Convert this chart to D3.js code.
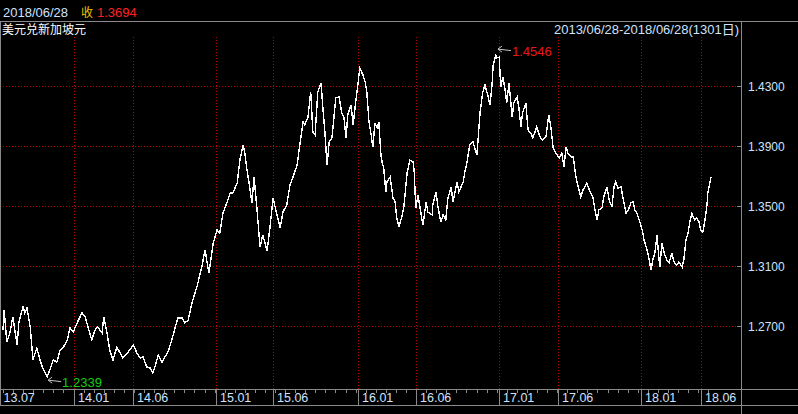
<!DOCTYPE html>
<html><head><meta charset="utf-8">
<script src="https://cdn.jsdelivr.net/npm/d3@7"></script>
<style>
html,body{margin:0;padding:0;background:#000;}
svg{display:block;}
text{font-family:"Liberation Sans",Arial,sans-serif;font-size:12px;}
</style></head>
<body>
<svg id="c" width="798" height="414"></svg>
<script>
// ---- data ----
const dayIndex = [0,2,7,13,18,26,29,37,40,44,50,55,62,68,73,81,86,92,99,105,110,118,123,129,136,145,151,156,163,169,174,182,185,191,196,202,209,215,220,228,233,239,246,252,257,264,270,275,279,285,292,297,303,310,316,321,329,334,340,347,353,356,365,371,378,386,393,398,404,411,417,422,430,435,441,444,448,453,457,461,466,472,477,485,490,496,503,509,514,521,527,532,540,545,551,554,560,565,569,573,578,584,587,591,595,599,604,606,611,617,622,626,630,633,639,643,648,652,655,661,665,668,672,676,679,683,687,690,694,696,699,703,705,711,716,720,723,727,733,736,742,747,753,755,758,762,767,771,777,780,788,789,795,799,804,808,813,817,823,826,834,837,845,848,852,857,863,870,872,876,881,885,890,894,898,900,905,907,911,914,918,922,925,929,935,938,944,947,951,954,960,964,969,973,980,986,991,997,1002,1006,1010,1015,1021,1026,1030,1034,1037,1043,1047,1052,1056,1061,1065,1072,1078,1083,1087,1091,1094,1100,1103,1109,1113,1118,1122,1125,1129,1135,1138,1144,1148,1153,1157,1160,1164,1170,1175,1177,1181,1184,1190,1193,1197,1201,1203,1206,1210,1214,1219,1223,1228,1232,1237,1241,1247,1250,1254,1258,1261,1265,1267,1270,1274,1278,1281,1285,1289,1293,1294,1300];
const closeValues = [1.2673,1.2807,1.2593,1.2660,1.2760,1.2573,1.2720,1.2833,1.2787,1.2820,1.2693,1.2473,1.2553,1.2473,1.2420,1.2360,1.2407,1.2473,1.2460,1.2540,1.2553,1.2607,1.2687,1.2660,1.2720,1.2787,1.2760,1.2693,1.2607,1.2673,1.2693,1.2653,1.2760,1.2653,1.2540,1.2473,1.2560,1.2520,1.2487,1.2520,1.2540,1.2573,1.2520,1.2487,1.2493,1.2427,1.2420,1.2387,1.2427,1.2507,1.2460,1.2493,1.2527,1.2607,1.2687,1.2753,1.2753,1.2720,1.2740,1.2853,1.2927,1.2960,1.3093,1.3207,1.3053,1.3253,1.3340,1.3320,1.3453,1.3520,1.3587,1.3587,1.3653,1.3807,1.3907,1.3853,1.3740,1.3627,1.3520,1.3693,1.3493,1.3227,1.3307,1.3200,1.3353,1.3553,1.3440,1.3353,1.3460,1.3507,1.3640,1.3687,1.3773,1.3907,1.4060,1.4040,1.4093,1.4260,1.3993,1.3973,1.4260,1.4320,1.4173,1.3993,1.3773,1.3927,1.3953,1.4027,1.4220,1.4227,1.4120,1.4093,1.3953,1.4107,1.4173,1.4040,1.4207,1.4320,1.4420,1.4373,1.4327,1.4260,1.4060,1.3973,1.3893,1.4053,1.4020,1.4060,1.3840,1.3793,1.3753,1.3593,1.3660,1.3693,1.3553,1.3527,1.3420,1.3360,1.3440,1.3493,1.3720,1.3807,1.3793,1.3727,1.3487,1.3573,1.3460,1.3373,1.3527,1.3460,1.3440,1.3507,1.3593,1.3487,1.3393,1.3440,1.3407,1.3553,1.3627,1.3527,1.3660,1.3593,1.3660,1.3727,1.3793,1.3907,1.3927,1.3840,1.3927,1.4127,1.4260,1.4307,1.4240,1.4173,1.4307,1.4440,1.4507,1.4487,1.4493,1.4293,1.4360,1.4273,1.4187,1.4320,1.4093,1.4187,1.4227,1.4160,1.4027,1.4120,1.4187,1.4007,1.3987,1.3953,1.4027,1.3960,1.3940,1.3960,1.4107,1.4027,1.3893,1.3853,1.3820,1.3853,1.3760,1.3893,1.3853,1.3827,1.3827,1.3693,1.3627,1.3560,1.3607,1.3653,1.3593,1.3560,1.3473,1.3407,1.3473,1.3487,1.3560,1.3627,1.3540,1.3493,1.3627,1.3660,1.3620,1.3627,1.3560,1.3453,1.3473,1.3520,1.3527,1.3473,1.3453,1.3387,1.3320,1.3273,1.3227,1.3187,1.3073,1.3140,1.3187,1.3307,1.3207,1.3093,1.3253,1.3187,1.3140,1.3120,1.3187,1.3127,1.3107,1.3127,1.3093,1.3140,1.3273,1.3320,1.3393,1.3453,1.3427,1.3407,1.3420,1.3393,1.3340,1.3327,1.3407,1.3520,1.3587,1.3694];
const yTickValues = [1.2700,1.3100,1.3500,1.3900,1.4300];
const monthLabels = ["13.07","14.01","14.06","15.01","15.06","16.01","16.06","17.01","17.06","18.01","18.06"];
const monthIndex  = [0,130,239,391,496,652,758,911,1019,1171,1282];
const maxPoint = {idx:907, value:1.4546};
const minPoint = {idx:81, value:1.2339};
const headerDate = "2018/06/28";
const headerCloseLabel = "收";
const headerClose = "1.3694";
const seriesName = "美元兑新加坡元";
const rangeText = "2013/06/28-2018/06/28(1301日)";
const totalDays = 1300;

// ---- drawing ----
const W = 798, H = 414;
const svg = d3.select("#c");
const plotLeft = 3, plotRight = 711, axisX = 741;
const gridTop = 37, axisTop = 389, axisBottom = 405;
const x = d3.scaleLinear().domain([0, totalDays]).range([plotLeft, plotRight]);
const y = d3.scaleLinear().domain([1.27, 1.43]).range([326, 86]);

svg.append("rect").attr("width", W).attr("height", H).attr("fill", "#000");

const gray = "#8a8a8a";
const red = "#c00000";
const txt = "#cfe3ff";

// frame lines
svg.append("line").attr("x1",0).attr("x2",W).attr("y1",21.5).attr("y2",21.5).attr("stroke",gray);
svg.append("line").attr("x1",axisX+0.5).attr("x2",axisX+0.5).attr("y1",21).attr("y2",H).attr("stroke",gray);
svg.append("line").attr("x1",0.5).attr("x2",0.5).attr("y1",21).attr("y2",axisBottom).attr("stroke",gray);
svg.append("line").attr("x1",0).attr("x2",W).attr("y1",axisTop+0.5).attr("y2",axisTop+0.5).attr("stroke",gray);
svg.append("line").attr("x1",0).attr("x2",W).attr("y1",axisBottom+0.5).attr("y2",axisBottom+0.5).attr("stroke",gray);

// horizontal grid
const yAxisG = svg.append("g");
yTickValues.forEach(v => {
  const yy = Math.round(y(v)) + 0.5;
  yAxisG.append("line").attr("x1",plotLeft).attr("x2",axisX-4).attr("y1",yy).attr("y2",yy)
    .attr("stroke",red).attr("stroke-dasharray","1,2");
  yAxisG.append("line").attr("x1",axisX-4).attr("x2",axisX).attr("y1",yy).attr("y2",yy).attr("stroke",gray);
  yAxisG.append("text").attr("x",axisX+7).attr("y",yy+4.5).attr("fill",txt).text(v.toFixed(4));
});

// vertical grid + x labels
const xAxisG = svg.append("g");
d3.range(0, totalDays, 18.5).forEach(d => {
  const xx = Math.round(x(d)) + 0.5;
  xAxisG.append("line").attr("x1",xx).attr("x2",xx).attr("y1",axisTop).attr("y2",axisTop+4).attr("stroke",gray);
});
monthIndex.forEach((d, i) => {
  const xx = Math.round(x(d)) + 0.5;
  if (i > 0) {
    xAxisG.append("line").attr("x1",xx).attr("x2",xx).attr("y1",gridTop).attr("y2",axisTop)
      .attr("stroke",red).attr("stroke-dasharray","1,2");
  }
  xAxisG.append("line").attr("x1",i===0?0.5:xx).attr("x2",i===0?0.5:xx).attr("y1",axisTop).attr("y2",axisBottom).attr("stroke",gray);
  xAxisG.append("text").attr("x",(i===0?0:xx)+3.5).attr("y",401.5).attr("fill",txt).style("font-size","12.5px").text(monthLabels[i]);
});

// price line
const data = dayIndex.map((d,i)=>({d, v: closeValues[i]}));
svg.append("path").datum(data)
  .attr("d", d3.line().x(p=>x(p.d)).y(p=>y(p.v)))
  .attr("fill","none").attr("stroke","#ffffff").attr("stroke-width",1.4)
  .attr("stroke-linejoin","miter").attr("shape-rendering","crispEdges");

// annotations
function annotate(pt, color) {
  const px = x(pt.idx), py = y(pt.value);
  const g = svg.append("g");
  g.append("line").attr("x1",px+1).attr("x2",px+14).attr("y1",py).attr("y2",py+1.5).attr("stroke","#c8c8c8");
  g.append("path").attr("d",`M${px+5},${py-3} L${px+1},${py} L${px+5},${py+3}`).attr("fill","none").attr("stroke","#c8c8c8");
  g.append("text").attr("x",px+15).attr("y",py+6.5).attr("fill",color).style("font-size","13px").text(pt.value.toFixed(4));
}
annotate(maxPoint, "#e81818");
annotate(minPoint, "#10d010");

// header
svg.append("text").attr("x",3).attr("y",17).attr("fill",txt).style("font-size","13px").text(headerDate);
svg.append("text").attr("x",81).attr("y",17).attr("fill","#f0c000")
  .style("font-family","'Noto Sans CJK SC',sans-serif").text(headerCloseLabel);
svg.append("text").attr("x",97).attr("y",17).attr("fill","#ff2020").style("font-size","13px").text(headerClose);
svg.append("text").attr("x",2).attr("y",34).attr("fill","#ffffff")
  .style("font-family","'Noto Sans CJK SC',sans-serif").text(seriesName);
svg.append("text").attr("x",axisX-2).attr("y",34).attr("text-anchor","end").attr("fill",txt)
  .style("font-family","'Liberation Sans','Noto Sans CJK SC',sans-serif").style("font-size","13px").text(rangeText);
</script>
</body></html>
